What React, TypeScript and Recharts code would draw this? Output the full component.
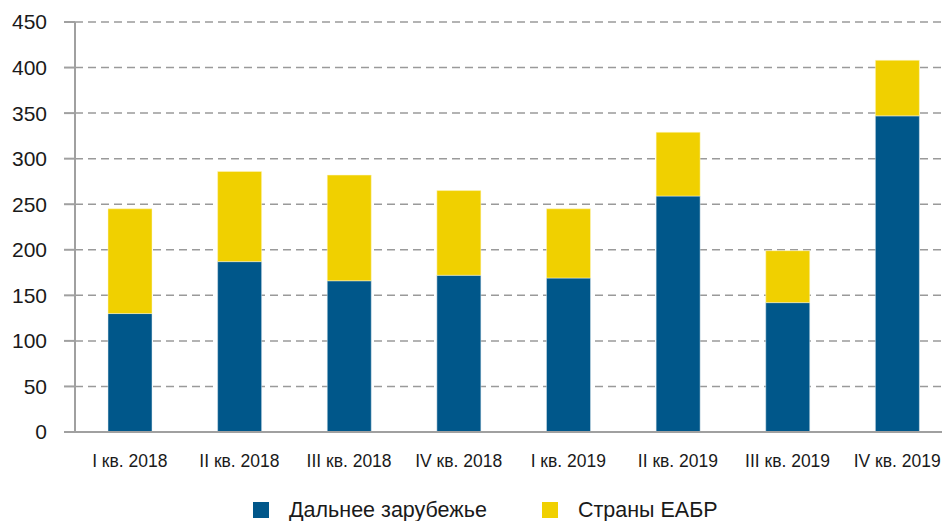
import { BarChart, Bar, XAxis, YAxis, CartesianGrid } from 'recharts'

const quarters = [
  'I кв. 2018',
  'II кв. 2018',
  'III кв. 2018',
  'IV кв. 2018',
  'I кв. 2019',
  'II кв. 2019',
  'III кв. 2019',
  'IV кв. 2019',
]
const farAbroad = [130, 187, 166, 172, 169, 259, 142, 347]
const eabrCountries = [115, 99, 116, 93, 76, 70, 57, 61]
const yTicks = [0, 50, 100, 150, 200, 250, 300, 350, 400, 450]

const BLUE = '#00578a'
const YELLOW = '#f0d000'
const FONT = '"Liberation Sans", Arial, Helvetica, sans-serif'

const data = quarters.map((q, i) => ({
  quarter: q,
  far: farAbroad[i],
  eabr: eabrCountries[i],
}))

const legendItems = [
  { label: 'Дальнее зарубежье', color: BLUE },
  { label: 'Страны ЕАБР', color: YELLOW },
]

function ChartLegend() {
  return (
    <div
      style={{
        position: 'absolute',
        left: 253,
        top: 496,
        height: 28,
        display: 'flex',
        alignItems: 'center',
        gap: 55,
        fontFamily: FONT,
      }}
    >
      {legendItems.map((item) => (
        <div key={item.label} style={{ display: 'flex', alignItems: 'center', gap: 20 }}>
          <div style={{ width: 16, height: 16, backgroundColor: item.color }} />
          <span style={{ fontSize: 21.5, color: '#1a1a1a', whiteSpace: 'nowrap' }}>{item.label}</span>
        </div>
      ))}
    </div>
  )
}

export default function App() {
  return (
    <div style={{ position: 'absolute', left: 0, top: 0, width: 942, height: 521, overflow: 'hidden', background: '#fff' }}>
      <BarChart
        width={960}
        height={521}
        data={data}
        margin={{ top: 22, right: 8, bottom: 59, left: 0 }}
        barSize={44}
      >
        <CartesianGrid vertical={false} stroke="#9a9a9a" strokeWidth={1.5} strokeDasharray="8 5" />
        <XAxis
          dataKey="quarter"
          height={30}
          axisLine={{ stroke: '#a0a0a0', strokeWidth: 2 }}
          tickLine={false}
          tickMargin={17}
          interval={0}
          tick={{ fill: '#1a1a1a', fontSize: 17.5, fontFamily: FONT }}
        />
        <YAxis
          width={75}
          domain={[0, 450]}
          ticks={yTicks}
          interval={0}
          axisLine={{ stroke: '#a0a0a0', strokeWidth: 2 }}
          tickLine={{ stroke: '#a0a0a0', strokeWidth: 2 }}
          tickSize={11}
          tickMargin={17}
          tick={{ fill: '#1a1a1a', fontSize: 21, fontFamily: FONT }}
        />
        <Bar dataKey="far" stackId="a" fill={BLUE} stroke="#dde8ee" strokeWidth={0.5} isAnimationActive={false} />
        <Bar dataKey="eabr" stackId="a" fill={YELLOW} stroke="#fff6c8" strokeWidth={0.5} isAnimationActive={false} />
      </BarChart>
      <ChartLegend />
    </div>
  )
}
